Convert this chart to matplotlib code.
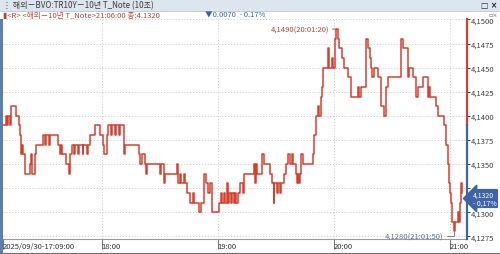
import numpy as np
import pandas as pd
import matplotlib.pyplot as plt
from matplotlib.patches import Rectangle
from matplotlib.lines import Line2D

plt.rcParams['font.family'] = ['Noto Sans CJK KR', 'DejaVu Sans']

## Data: 10-second close of US 10Y T-Note yield, minutes elapsed since 17:09:00
start = pd.Timestamp("2025-09-30 17:09:00")
minutes = [
    0, 1.5, 2.1, 2.8, 3.6, 4.1, 6.7, 8.2, 8.7, 9.3, 10.0, 10.5, 11.3, 13.9, 14.6,
    15.2, 16.4, 17.2, 20.6, 21.6, 22.1, 23.6, 24.2, 28.3, 29.3, 29.8, 30.3, 32.4,
    33.9, 34.4, 35.5, 36.5, 37.0, 38.6, 39.1, 41.1, 41.6, 43.2, 43.7, 45.2, 47.3,
    49.9, 51.9, 52.4, 53.5, 54.5, 56.0, 56.5, 58.1, 58.6, 60.1, 60.7, 62.7, 63.2,
    70.4, 70.9, 72.0, 73.5, 74.0, 74.5, 81.2, 81.7, 83.3, 83.8, 90.0, 90.5, 91.5,
    92.0, 93.5, 94.1, 95.1, 96.6, 98.2, 98.7, 101.3, 102.3, 103.8, 104.9, 105.9,
    106.9, 107.9, 111.5, 112.6, 113.1, 114.1, 114.6, 115.7, 116.2, 116.7, 117.7,
    118.2, 119.2, 119.8, 120.3, 121.3, 122.3, 123.9, 124.4, 129.5, 130.0, 130.6,
    131.1, 133.6, 134.7, 137.8, 138.8, 139.8, 140.3, 141.4, 141.9, 142.9, 143.9,
    145.0, 146.5, 147.5, 148.5, 149.1, 150.1, 151.6, 152.1, 152.7, 153.2, 153.7,
    154.2, 155.2, 160.4, 160.9, 161.9, 162.9, 163.5, 164.5, 165.0, 165.5, 168.1,
    168.6, 170.1, 170.6, 171.7, 172.33, 173.2, 173.7, 175.3, 176.3, 178.4, 179.9,
    183.5, 184.0, 185.0, 187.6, 188.6, 189.7, 190.2, 190.7, 191.7, 193.8, 195.3,
    196.9, 197.9, 198.9, 205.6, 206.6, 209.2, 209.7, 211.8, 213.3, 214.3, 216.9,
    219.5, 220.0, 220.5, 223.6, 224.6, 227.7, 228.7, 229.8, 230.3, 230.8, 231.3,
    231.8, 232.83, 233.4, 235.4, 235.9, 236.0, 236.5, 237.0,
]
values = [
    4.139, 4.140, 4.139, 4.140, 4.139, 4.141, 4.140, 4.139, 4.138, 4.136, 4.137,
    4.136, 4.134, 4.135, 4.136, 4.134, 4.136, 4.137, 4.138, 4.137, 4.138, 4.137,
    4.138, 4.137, 4.136, 4.137, 4.136, 4.135, 4.134, 4.136, 4.137, 4.136, 4.137,
    4.136, 4.137, 4.136, 4.137, 4.136, 4.137, 4.138, 4.139, 4.138, 4.137, 4.136,
    4.138, 4.139, 4.138, 4.139, 4.138, 4.139, 4.138, 4.139, 4.136, 4.137, 4.136,
    4.135, 4.136, 4.135, 4.134, 4.135, 4.134, 4.135, 4.133, 4.134, 4.135, 4.133,
    4.134, 4.133, 4.134, 4.133, 4.132, 4.131, 4.132, 4.131, 4.130, 4.131, 4.134,
    4.133, 4.132, 4.133, 4.130, 4.131, 4.132, 4.131, 4.132, 4.131, 4.133, 4.131,
    4.132, 4.131, 4.132, 4.131, 4.132, 4.131, 4.132, 4.133, 4.132, 4.134, 4.135,
    4.133, 4.135, 4.134, 4.136, 4.135, 4.134, 4.133, 4.131, 4.133, 4.132, 4.133,
    4.132, 4.133, 4.134, 4.135, 4.136, 4.135, 4.136, 4.135, 4.134, 4.133, 4.134,
    4.133, 4.134, 4.136, 4.135, 4.136, 4.138, 4.140, 4.141, 4.140, 4.142, 4.143,
    4.145, 4.147, 4.145, 4.146, 4.145, 4.148, 4.149, 4.148, 4.147, 4.146, 4.145,
    4.144, 4.142, 4.143, 4.142, 4.143, 4.148, 4.147, 4.146, 4.145, 4.144, 4.145,
    4.144, 4.141, 4.140, 4.143, 4.144, 4.148, 4.147, 4.144, 4.145, 4.144, 4.142,
    4.143, 4.144, 4.142, 4.143, 4.142, 4.141, 4.140, 4.139, 4.137, 4.135, 4.133,
    4.132, 4.131, 4.129, 4.128, 4.129, 4.130, 4.129, 4.131, 4.133, 4.132,
]
prev_close = 4.1390
last_value, change, pct = 4.1320, 0.0070, -0.17
hi_value, hi_time = 4.1490, "20:01:20"
lo_value, lo_time = 4.1280, "21:01:50"
hour_ticks = ["18:00", "19:00", "20:00", "21:00"]

times = start + pd.to_timedelta(minutes, unit="min")
series = pd.Series(values, index=times)

RED = "#d4402f"
BLUE = "#3f63a8"

fig = plt.figure(figsize=(5, 2.55), dpi=100)
fig.patch.set_facecolor("white")
ax = fig.add_axes([3 / 500, 15 / 255, 464 / 500, 220 / 255])

ax.step(series.index, series.values, where="post", color=RED, lw=1.1, zorder=3)

xmin = start
xmax = start + pd.Timedelta(minutes=239.8)
ymin, ymax = 4.12722, 4.15005
ax.set_xlim(xmin, xmax)
ax.set_ylim(ymin, ymax)

# dotted grid
yt = np.arange(4.1275, 4.15001, 0.0025)
hour_dt = [pd.Timestamp(f"2025-09-30 {h}") for h in hour_ticks]
for v in yt:
    ax.axhline(v, color="#c9c9c9", lw=0.7, ls=(0, (1, 2)), zorder=1)
for d in hour_dt:
    ax.axvline(d, color="#c9c9c9", lw=0.7, ls=(0, (1, 2)), zorder=1)

# right axis, red above previous close, blue below
ax.yaxis.tick_right()
ax.set_yticks(yt)
# the 4,1325 label sits under the last-value box in the original, so it is hidden
ylabels = ["" if abs(v - 4.1325) < 1e-6 else f"{v:.4f}".replace(".", ",") for v in yt]
ax.set_yticklabels(ylabels)
ax.tick_params(axis="y", length=2, width=0.7, pad=0.5, labelsize=5.5,
               labelcolor="#404040", colors="#404040")
for s in ["left", "top", "right"]:
    ax.spines[s].set_visible(False)
ax.spines["bottom"].set_color("#9a9a9a")
ax.spines["bottom"].set_linewidth(0.8)
split = (prev_close - ymin) / (ymax - ymin)
ax.axvline(xmax, ymin=split, ymax=1, color=RED, lw=1.6, clip_on=False, zorder=5)
ax.axvline(xmax, ymin=0, ymax=split, color=BLUE, lw=1.6, clip_on=False, zorder=5)

# bottom axis: tick marks with left-aligned labels beside them
ax.set_xticks([xmin] + hour_dt)
ax.set_xticklabels([])
ax.tick_params(axis="x", length=7, width=0.7, colors="#707070")
xt_labels = [start.strftime("%Y/%m/%d-%H:%M:%S")] + hour_ticks
for d, lab in zip([xmin] + hour_dt, xt_labels):
    ax.text(d, -0.012, lab, transform=ax.get_xaxis_transform(), ha="left",
            va="top", fontsize=5.5, color="#333333", clip_on=False)

# high / low annotations
hi_dt = pd.Timestamp(f"2025-09-30 {hi_time}")
lo_dt = pd.Timestamp(f"2025-09-30 {lo_time}")
ax.annotate(f"{hi_value:.4f}".replace(".", ",") + f"({hi_time})",
            xy=(hi_dt, hi_value), xytext=(-5, 0), textcoords="offset points",
            ha="right", va="center", fontsize=5.5, color="#b5443a",
            arrowprops=dict(arrowstyle="-", color="#b5443a", lw=0.6,
                            shrinkA=0, shrinkB=0))
ax.annotate(f"{lo_value:.4f}".replace(".", ",") + f"({lo_time})",
            xy=(lo_dt, lo_value), xytext=(-7, -3.5), textcoords="offset points",
            ha="right", va="center", fontsize=5.5, color="#5c6f94",
            arrowprops=dict(arrowstyle="-", color="#5c6f94", lw=0.6,
                            shrinkA=0, shrinkB=0,
                            connectionstyle="angle,angleA=0,angleB=90,rad=0"))

# last value box
ax.annotate(f"{last_value:.4f}".replace(".", ",") + f"\n- {abs(pct):.2f}%".replace(".", ","),
            xy=(1, last_value), xycoords=("axes fraction", "data"),
            xytext=(4, -4), textcoords="offset points", ha="left", va="center",
            fontsize=5, color="white", linespacing=0.95, zorder=10,
            bbox=dict(boxstyle="larrow,pad=0.15", fc=BLUE, ec=BLUE))

# window chrome
fig.add_artist(Rectangle((0, 1 - 11.5 / 255), 1, 11.5 / 255, transform=fig.transFigure,
                         fc="#dde6ef", ec="none", zorder=0))
fig.add_artist(Line2D([0, 1], [1 - 11.5 / 255] * 2, transform=fig.transFigure,
                      color="#b8c6d4", lw=0.6))
fig.add_artist(Rectangle((0, 0), 2.5 / 500, 1 - 20 / 255, transform=fig.transFigure,
                         fc="#5c7fb0", ec="none"))
fig.add_artist(Line2D([0, 1], [1.5 / 255] * 2, transform=fig.transFigure,
                      color="#707070", lw=0.8))
fig.text(3 / 500, 1 - 6 / 255, "⋮ 해외－BVO:TR10Y－10년 T_Note (10초)", fontsize=5.8,
         color="#3a3a3a", va="center", ha="left")
fig.text(497 / 500, 1 - 5.5 / 255, "□ ×", fontsize=5.5, color="#222222",
         va="center", ha="right", fontweight="bold", family="DejaVu Sans")
fig.text(3 / 500, 1 - 16 / 255,
         f"▮<R> <해외－10년 T_Note>21:06:00 종:{last_value:.4f}",
         fontsize=5.5, color="#b5443a", va="center", ha="left")
fig.text(205 / 500, 1 - 16 / 255, f"▼{change:.4f}  - {abs(pct):.2f}%",
         fontsize=5.5, color=BLUE, va="center", ha="left")
fig.text(498 / 500, 1 - 15.5 / 255, "▫×", fontsize=4.5, color="#777777",
         va="center", ha="right", family="DejaVu Sans")

plt.savefig("out.png", dpi=100)
plt.close()
